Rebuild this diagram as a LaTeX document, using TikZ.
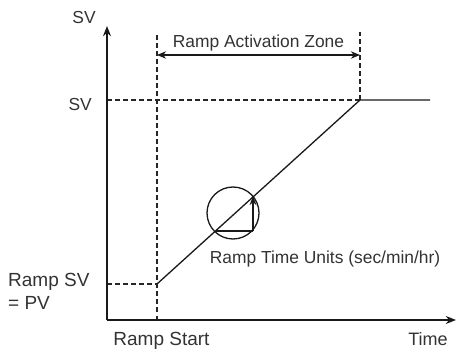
\documentclass[tikz,border=0pt]{standalone}
\usepackage{fontspec}
\setmainfont{Liberation Sans}
\usetikzlibrary{arrows.meta,positioning,calc}
\tikzset{
  axisln/.style={-{Stealth[length=3.6mm,width=2.8mm]}, line width=1.8pt, black!90},
  guideln/.style={dash pattern=on 4.5pt off 3.5pt, line width=1.5pt, black!85},
  rampln/.style={line width=1.3pt, black!90},
  zonearr/.style={{Stealth[length=3.2mm,width=2.6mm]}-{Stealth[length=3.2mm,width=2.6mm]}, line width=1.2pt, black!90},
  stepln/.style={-{Stealth[length=3.2mm,width=2.4mm]}, line width=1.4pt, black!90},
  lbl/.style={font=\fontsize{17.4}{23}\selectfont, inner sep=0pt, text=black!80},
  axlbl/.style={font=\fontsize{19}{23}\selectfont, inner sep=0pt, text=black!80},
}

\begin{document}
\begin{tikzpicture}[x=1pt, y=1pt, node distance=4pt and 12pt]
    \useasboundingbox (0,0) rectangle (457,353);
    % axes and key points
    \coordinate (o) at (107,33);
    \coordinate (ytop) at (107,327);
    \coordinate (xend) at (456,33);
    \coordinate (rs) at (157,69);
    \coordinate (re) at (360,253);
    \coordinate (flat) at (430,253);
    \coordinate (svy) at (107,253);
    \coordinate (rsy) at (107,69);
    \coordinate (rsx) at (157,33);
    \coordinate (rstop) at (157,321);
    \coordinate (retop) at (360,321);
    \coordinate (za) at (157,298);
    \coordinate (zb) at (360,298);
    \coordinate (ta) at (216,122);
    \coordinate (tb) at (253,122);
    \coordinate (tc) at (253,157);
    % labels
    \node[lbl, anchor=base] (svtop) at (84,329) {SV};
    \node[lbl, anchor=base east] (svlbl) at (92,242) {SV};
    \node[axlbl, align=left, anchor=west] (rampsv) at (8,62) {Ramp SV\\= PV};
    \node[axlbl, anchor=base] (start) at (161.5,8) {Ramp Start};
    \node[lbl, font=\fontsize{18}{23}\selectfont, anchor=base] (time) at (428,8) {Time};
    \node[lbl] (units) at (325,94) {Ramp Time Units (sec/min/hr)};
    \node[lbl, anchor=base] (zone) at ($(za)!0.5!(zb)+(0,7)$) {Ramp Activation Zone};
    % guides
    \draw[guideln] (rsx) -- (rstop);
    \draw[guideln] (re) -- (retop);
    \draw[guideln] (svy) -- (re);
    \draw[guideln] (rsy) -- (rs);
    \draw[zonearr] (za) -- (zb);
    % curve
    \draw[rampln] (rs) -- (re) -- (flat);
    \node[draw, circle, line width=1.3pt, black!90, minimum size=52pt, inner sep=0pt] (zoomc) at (233,140) {};
    \draw[rampln] (ta) -- (tb);
    \draw[stepln] (tb) -- (tc);
    % axes
    \draw[axisln] (o) -- (ytop);
    \draw[axisln] (o) -- (xend);
\end{tikzpicture}
\end{document}
